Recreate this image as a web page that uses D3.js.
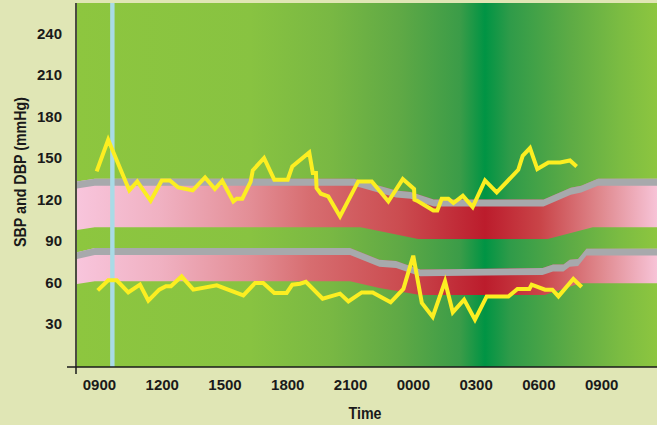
<!DOCTYPE html>
<html lang="en">
<head>
  <meta charset="UTF-8">
  <title>SBP and DBP over 24 hours</title>
  <script src="https://d3js.org/d3.v7.min.js"></script>
  <style>
    body {
      margin: 0;
      background: #e0e6b5;
    }
    svg { display: block; }
    .axis text, .label {
      font-family: "Liberation Sans", Arial, sans-serif;
      font-weight: bold;
      fill: #1a1a1a;
    }
    .axis text { font-size: 15px; }
    .label { font-size: 17px; }
  </style>
</head>
<body>
  <div id="chart"></div>
  <script>
    // time is hours after 09:00 on the first day
    const xTickHours = [0, 3, 6, 9, 12, 15, 18, 21, 24];
    const xTickLabels = ["0900", "1200", "1500", "1800", "2100", "0000", "0300", "0600", "0900"];
    const yTicks = [30, 60, 90, 120, 150, 180, 210, 240];
    const markerHour = 0.64;
    const capDepth = 5; // grey cap on top of each band, mmHg

    // normal ranges (top edge incl. grey cap, bottom edge)
    const sbpBandTop = [[-1.05, 133], [-0.2, 135], [12.2, 135], [14.2, 126.5], [14.9, 125.5], [16.0, 120],
      [21.25, 120], [22.55, 128.5], [23.05, 130], [23.85, 135], [26.7, 135]];
    const sbpBandBottom = [[-1.05, 98], [-0.2, 100], [12.5, 100], [13.8, 96], [15.25, 91.5],
      [21.45, 91.5], [23.6, 100], [26.7, 100]];
    const dbpBandTop = [[-1.05, 82], [-0.2, 85], [12.0, 85], [13.4, 76.5], [14.2, 75.5], [15.35, 69.5],
      [21.2, 70.5], [21.7, 73], [22.2, 73], [22.5, 76.5], [22.9, 77], [23.3, 84.5], [26.7, 84.5]];
    const dbpBandBottom = [[-1.05, 59], [-0.2, 61], [12.0, 61], [13.4, 56], [15.35, 51],
      [21.3, 51], [23.0, 59.5], [26.7, 59.5]];

    // readings [hour, mmHg]
    const sbpReadings = [[-0.11, 140.3], [0.44, 163.2], [1.45, 126.6], [1.83, 133.1], [2.47, 119.1],
      [3.0, 133.8], [3.39, 133.8], [3.79, 128.7], [4.48, 126.6], [5.07, 136], [5.54, 127.6],
      [5.89, 133.6], [6.42, 118.6], [6.58, 120.6], [6.85, 120.6], [7.25, 133], [7.35, 141],
      [7.89, 150], [8.38, 134.3], [9.02, 134.3], [9.24, 143.9], [10.05, 154], [10.22, 139.1],
      [10.37, 139.1], [10.4, 128.3], [10.6, 124.2], [10.96, 122.2], [11.52, 107.8], [12.39, 133.1],
      [13.04, 133.1], [13.83, 118.6], [14.52, 134.8], [15.06, 127.6], [15.08, 119.9], [15.19, 119.3],
      [15.98, 112.1], [16.17, 112.1], [16.38, 120.6], [16.7, 120.6], [16.94, 117.5], [17.39, 122.7],
      [17.86, 114.6], [18.45, 133.8], [19.01, 125.1], [20.04, 141.5], [20.25, 151.6], [20.6, 157.2],
      [20.95, 142], [21.48, 146.8], [22.04, 146.8], [22.51, 148.2], [22.83, 143.9]];
    const dbpReadings = [[-0.06, 54.4], [0.44, 61.6], [0.85, 61.6], [1.4, 52.9], [1.96, 58.5],
      [2.36, 46.9], [2.88, 54.9], [3.2, 57.3], [3.44, 57.3], [3.95, 64.5], [4.51, 54.9], [5.63, 58],
      [6.9, 50.8], [7.46, 59.7], [7.85, 59.7], [8.38, 52.5], [8.97, 52.5], [9.24, 58.5], [9.61, 59.2],
      [9.89, 60.6], [10.69, 48.4], [11.52, 52], [11.92, 46.4], [12.56, 52.9], [13.08, 52.9],
      [13.94, 45.7], [14.55, 55.4], [15.02, 79.4], [15.43, 45.3], [15.95, 35.2], [16.54, 60.9],
      [16.91, 38.5], [17.45, 47.7], [17.97, 33.2], [18.53, 50], [19.57, 50], [20.0, 55.4],
      [20.57, 55.4], [20.68, 58.5], [21.32, 54.9], [21.67, 54.9], [21.96, 50], [22.67, 62.6],
      [23.07, 56.8]];

    const width = 657, height = 425;
    const plot = { left: 77, right: 657, top: 3, bottom: 367 };

    const x = d3.scaleLinear().domain([-1.05, 26.67]).range([plot.left, plot.right]);
    const y = d3.scaleLinear().domain([-1, 262]).range([plot.bottom, plot.top]);

    const svg = d3.select("#chart").append("svg")
      .attr("width", width)
      .attr("height", height);

    const defs = svg.append("defs");

    function gradient(id, stops) {
      const g = defs.append("linearGradient")
        .attr("id", id)
        .attr("gradientUnits", "userSpaceOnUse")
        .attr("x1", plot.left).attr("x2", plot.right)
        .attr("y1", 0).attr("y2", 0);
      stops.forEach(s => g.append("stop")
        .attr("offset", (s[0] - plot.left) / (plot.right - plot.left))
        .attr("stop-color", s[1]));
    }

    // night shading, darkest around 03:30
    gradient("bgGrad", [[77, "#8dc63f"], [250, "#88c341"], [330, "#79b843"], [400, "#5fa945"],
      [460, "#3b9c48"], [485, "#009444"], [510, "#2f9b49"], [570, "#5dab45"], [620, "#7bbc42"], [657, "#8dc63f"]]);
    gradient("bandGrad", [[77, "#f8c5dc"], [160, "#f0b1c2"], [250, "#e38e96"], [310, "#d76d70"],
      [400, "#cb4c50"], [485, "#bc1c2c"], [540, "#c94448"], [600, "#df888d"], [657, "#f7c3d7"]]);

    svg.append("rect")
      .attr("x", plot.left)
      .attr("y", plot.top)
      .attr("width", plot.right - plot.left)
      .attr("height", plot.bottom - plot.top)
      .attr("fill", "url(#bgGrad)");

    const line = d3.line().x(d => x(d[0])).y(d => y(d[1]));
    const cap = d3.area()
      .x(d => x(d[0]))
      .y0(d => y(d[1] - capDepth))
      .y1(d => y(d[1]));

    [[sbpBandTop, sbpBandBottom], [dbpBandTop, dbpBandBottom]].forEach(([top, bottom]) => {
      svg.append("path")
        .attr("d", line(top.concat(bottom.slice().reverse())) + "Z")
        .attr("fill", "url(#bandGrad)");
      svg.append("path")
        .attr("d", cap(top))
        .attr("fill", "#a7a9ac");
    });

    // marker line
    svg.append("rect")
      .attr("x", x(markerHour) - 2.2)
      .attr("y", plot.top)
      .attr("width", 4.4)
      .attr("height", plot.bottom - plot.top)
      .attr("fill", "#a9dbe6");

    [sbpReadings, dbpReadings].forEach(r => {
      svg.append("path")
        .attr("d", line(r))
        .attr("fill", "none")
        .attr("stroke", "#fcee21")
        .attr("stroke-width", 4)
        .attr("stroke-linejoin", "miter");
    });

    // axes
    svg.append("g")
      .attr("class", "axis")
      .attr("transform", `translate(0,${plot.bottom})`)
      .call(d3.axisBottom(x).tickValues(xTickHours)
        .tickFormat((d, i) => xTickLabels[i]).tickSize(0).tickPadding(12))
      .call(g => g.select(".domain").remove());

    svg.append("g")
      .attr("class", "axis")
      .attr("transform", `translate(${plot.left - 1},0)`)
      .call(d3.axisLeft(y).tickValues(yTicks).tickSize(0).tickPadding(14))
      .call(g => g.select(".domain").remove());

    svg.append("line")
      .attr("x1", 67).attr("x2", plot.right)
      .attr("y1", plot.bottom).attr("y2", plot.bottom)
      .attr("stroke", "#1a1a1a").attr("stroke-width", 1.5);
    svg.append("line")
      .attr("x1", plot.left - 1).attr("x2", plot.left - 1)
      .attr("y1", plot.top).attr("y2", 374)
      .attr("stroke", "#1a1a1a").attr("stroke-width", 1.5);

    // axis titles use a condensed look
    svg.append("text")
      .attr("class", "label")
      .attr("transform", "translate(365,419) scale(0.84,1)")
      .attr("text-anchor", "middle")
      .text("Time");

    svg.append("text")
      .attr("class", "label")
      .attr("transform", "translate(26,172) rotate(-90) scale(0.84,1)")
      .attr("text-anchor", "middle")
      .text("SBP and DBP (mmHg)");
  </script>
</body>
</html>
